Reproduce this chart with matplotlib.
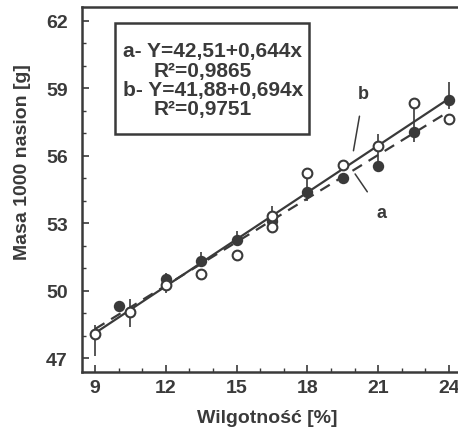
import numpy as np
import matplotlib
matplotlib.use("Agg")
import matplotlib.pyplot as plt
from matplotlib.ticker import MultipleLocator, FixedLocator
from matplotlib.patches import Rectangle

plt.rcParams['font.family'] = ['Liberation Sans', 'DejaVu Sans']
plt.rcParams['font.weight'] = 'bold'

ink = '#3a3a3a'

# wilgotnosc [%] vs masa 1000 nasion [g]
filled_x = [10, 12, 13.5, 15, 16.5, 18, 19.5, 21, 22.5, 24]
filled_y = [49.34, 50.53, 51.34, 52.26, 53.1, 54.38, 55.0, 55.56, 57.04, 58.49]
open_x = [9, 10.5, 12, 13.5, 15, 16.5, 16.5, 18, 19.5, 21, 22.5, 24]
open_y = [48.09, 49.06, 50.26, 50.75, 51.59, 53.34, 52.84, 55.22, 55.59, 56.44, 58.34, 57.63]

# vertical spread bars
bar_x = [9, 10.5, 12, 13.5, 15, 16.5, 18, 21, 22.5, 24]
bar_lo = [47.1, 48.4, 49.9, 51.06, 52.0, 53.1, 54.0, 55.7, 56.6, 58.07]
bar_hi = [48.5, 49.64, 50.8, 51.72, 52.67, 53.78, 54.97, 56.96, 58.16, 59.27]

# regression lines
a_b0, a_b1 = 42.51, 0.644
b_b0, b_b1 = 41.88, 0.694
fit_range = [9, 24]

eq_lines = ["a- Y=42,51+0,644x", "R\u00b2=0,9865", "b- Y=41,88+0,694x", "R\u00b2=0,9751"]

x_ticks = [9, 12, 15, 18, 21, 24]
y_ticks = [47, 50, 53, 56, 59, 62]

fig = plt.figure(figsize=(4.58, 4.31), dpi=100)
ax = fig.add_axes([0.1784, 0.1346, 0.8216, 0.8468])

xs = np.array(fit_range)
ax.plot(xs, b_b0 + b_b1 * xs, '-', color=ink, lw=1.6, zorder=2)
ax.plot(xs, a_b0 + a_b1 * xs, '--', color=ink, lw=1.6, dashes=(5, 3.5), zorder=2)

ax.vlines(bar_x, bar_lo, bar_hi, color=ink, lw=1.2, zorder=2)

ax.plot(filled_x, filled_y, 'o', ms=7, mfc=ink, mec=ink, mew=1.2, ls='none', zorder=3)
ax.plot(open_x, open_y, 'o', ms=7, mfc='white', mec=ink, mew=1.5, ls='none', zorder=4)

# labels a / b with leader lines
ax.annotate('b', xy=(19.95, 56.22), xytext=(20.37, 58.74), ha='center', va='center',
            fontsize=13, color=ink,
            arrowprops=dict(arrowstyle='-', color=ink, lw=1.1, shrinkA=8, shrinkB=0))
ax.annotate('a', xy=(20.02, 55.19), xytext=(21.13, 53.49), ha='center', va='center',
            fontsize=13, color=ink,
            arrowprops=dict(arrowstyle='-', color=ink, lw=1.1, shrinkA=8, shrinkB=0))

# equation box
ax.add_patch(Rectangle((0.0884, 0.6521), 0.5154, 0.3041, transform=ax.transAxes,
                       fc='white', ec=ink, lw=1.8, zorder=5))
eq_x = [0.109, 0.190, 0.109, 0.190]
eq_y = [0.866, 0.812, 0.759, 0.707]
for tx, ty, s in zip(eq_x, eq_y, eq_lines):
    ax.text(tx, ty, s, transform=ax.transAxes, ha='left', va='baseline',
            fontsize=15, color=ink, zorder=6)

ax.set_xlim(8.436, 24.38)
ax.set_ylim(46.4, 62.6)
ax.xaxis.set_major_locator(FixedLocator(x_ticks))
ax.xaxis.set_minor_locator(MultipleLocator(1))
ax.yaxis.set_major_locator(FixedLocator(y_ticks))
ax.yaxis.set_minor_locator(MultipleLocator(1))
ax.tick_params(which='both', direction='in', color=ink, labelcolor=ink, labelsize=14)
ax.tick_params(which='major', length=5, width=1.2)
ax.tick_params(which='minor', length=3, width=1.0)
ax.tick_params(axis='x', pad=5)
ax.tick_params(axis='y', pad=10)
ax.tick_params(top=False, right=False, which='both')

for s in ['left', 'bottom', 'top']:
    ax.spines[s].set_color(ink)
    ax.spines[s].set_linewidth(1.8)
ax.spines['right'].set_visible(False)

fig.text(267 / 458, 1 - 419 / 431, 'Wilgotno\u015b\u0107 [%]',
         ha='center', va='center', fontsize=14, color=ink)
fig.text(23 / 458, 1 - 162 / 431, 'Masa 1000 nasion [g]', rotation=90,
         ha='center', va='center', fontsize=14, color=ink)

fig.savefig('out.png', dpi=100)
